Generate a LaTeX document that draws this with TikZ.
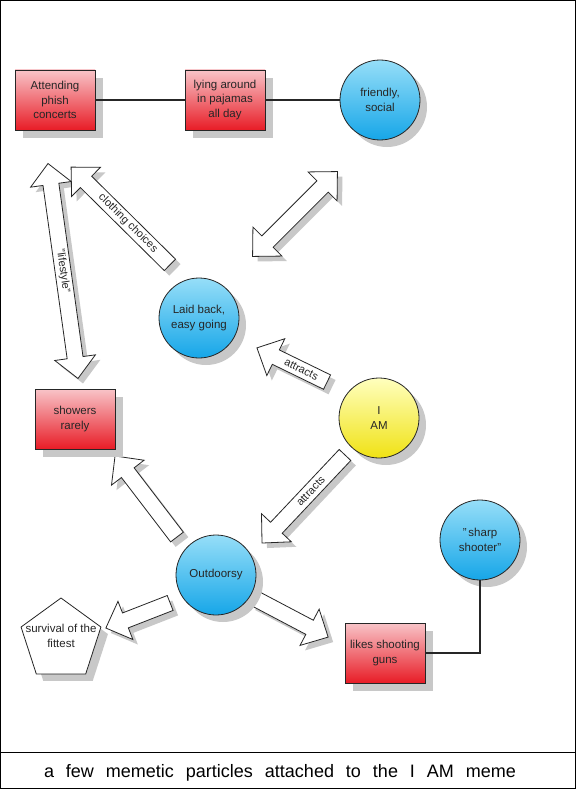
\documentclass[tikz,border=0pt]{standalone}
\usepackage{fontspec}
\setmainfont{Liberation Sans}
\usetikzlibrary{shadows,shapes.geometric}
\definecolor{rtop}{RGB}{248,196,200}
\definecolor{rbot}{RGB}{232,28,38}
\definecolor{btop}{RGB}{150,222,248}
\definecolor{bbot}{RGB}{22,166,232}
\definecolor{ytop}{RGB}{255,255,190}
\definecolor{ybot}{RGB}{240,226,20}
\definecolor{shadowc}{RGB}{200,200,200}
\newcommand{\nodefont}{\fontsize{11.5}{14.5}\selectfont}
\newcommand{\SArrow}[7]{%
 \fill[shadowc, shift={(#1+5,#2+5)}, rotate=#3] (-#4/2,-8) -- (#4/2-21,-8) -- (#4/2-21,-20.5) -- (#4/2,0) -- (#4/2-21,20.5) -- (#4/2-21,8) -- (-#4/2,8) -- cycle;
 \draw[blockarrow, shift={(#1,#2)}, rotate=#3] (-#4/2,-8) -- (#4/2-21,-8) -- (#4/2-21,-20.5) -- (#4/2,0) -- (#4/2-21,20.5) -- (#4/2-21,8) -- (-#4/2,8) -- cycle;
 \node[arrowlabel, rotate=#7] (#5) at ({#1-10.5*cos(#3)},{#2+10.5*sin(#3)}) {#6};
}
\newcommand{\DArrow}[7]{%
 \fill[shadowc, shift={(#1+5,#2+5)}, rotate=#3] (-#4/2,0) -- (-#4/2+21,-20.5) -- (-#4/2+21,-8) -- (#4/2-21,-8) -- (#4/2-21,-20.5) -- (#4/2,0) -- (#4/2-21,20.5) -- (#4/2-21,8) -- (-#4/2+21,8) -- (-#4/2+21,20.5) -- cycle;
 \draw[blockarrow, shift={(#1,#2)}, rotate=#3] (-#4/2,0) -- (-#4/2+21,-20.5) -- (-#4/2+21,-8) -- (#4/2-21,-8) -- (#4/2-21,-20.5) -- (#4/2,0) -- (#4/2-21,20.5) -- (#4/2-21,8) -- (-#4/2+21,8) -- (-#4/2+21,20.5) -- cycle;
 \node[arrowlabel, rotate=#7] (#5) at (#1,#2) {#6};
}
\tikzset{
 boxnode/.style={rectangle, draw=black!85, line width=0.8pt, minimum width=80pt, minimum height=60pt,
   top color=rtop, bottom color=rbot, align=center, font=\nodefont, text=black!85, inner sep=2pt,
   drop shadow={shadow xshift=8pt, shadow yshift=-8pt, fill=shadowc, opacity=1}},
 circnode/.style={circle, draw=black!85, line width=0.8pt, minimum size=80pt, inner sep=0pt,
   align=center, font=\nodefont, text=black!85,
   drop shadow={shadow xshift=7pt, shadow yshift=-7pt, fill=shadowc, opacity=1}},
 bluenode/.style={circnode, top color=btop, bottom color=bbot},
 yellownode/.style={circnode, top color=ytop, bottom color=ybot},
 pentnode/.style={regular polygon, regular polygon sides=5, minimum size=84pt, inner sep=0pt,
   draw=black!85, line width=0.8pt, fill=white,
   drop shadow={shadow xshift=7pt, shadow yshift=-7pt, fill=shadowc, opacity=1}},
 plaintext/.style={align=center, font=\nodefont, text=black!85, inner sep=0pt},
 blockarrow/.style={draw=black!85, line width=0.8pt, fill=white, line join=miter},
 arrowlabel/.style={font=\fontsize{11}{13}\selectfont, text=black!85, inner sep=0pt},
 link/.style={line width=1.3pt, draw=black!85},
}
\begin{document}
\begin{tikzpicture}[x=1pt,y=-1pt]
\useasboundingbox (0,0) rectangle (576,789);
\fill[white] (0,0) rectangle (576,789);
% frame
\draw[line width=1pt] (0.5,0.5) rectangle (575.5,788.5);
\draw[line width=1pt] (0,752) -- (576,752);

% block arrows
\DArrow{295}{214}{45}{120}{afriend}{}{0}
\DArrow{63}{271}{-82.06}{217}{alife}{"lifestyle"}{-82.06}
\SArrow{120.5}{216}{135.3}{139}{aclothing}{clothing choices}{-44.7}
\SArrow{292}{365}{154}{78}{aattr1}{attracts}{-26}
\SArrow{303.5}{499}{226.7}{121}{aattr2}{attracts}{46.7}
\SArrow{146}{496.5}{127.4}{102}{ashowers}{}{0}
\SArrow{138}{615.5}{201.3}{69}{asurvival}{}{0}
\SArrow{291}{617.5}{-27.8}{84}{aguns}{}{0}

% nodes
\node[boxnode] (phish) at (55,100) {Attending\\phish\\concerts};
\node[boxnode] (lying) at (225,100) {lying around\\in pajamas\\all day};
\node[bluenode] (friendly) at (380,100) {friendly,\\social};
\node[bluenode] (laid) at (199,318) {Laid back,\\easy going};
\node[yellownode] (iam) at (379,418) {I\\AM};
\node[boxnode] (showers) at (75,419) {showers\\rarely};
\node[bluenode] (outdoorsy) at (216,575) {Outdoorsy};
\node[bluenode] (sharp) at (480,540) {"\,sharp\\shooter"};
\node[boxnode] (guns) at (385,653) {likes shooting\\guns};
\node[pentnode] (surv) at (61,640) {};
\node[plaintext] (survtext) at (61,636) {survival of the\\fittest};

% connectors
\draw[link] (phish.east) -- (lying.west);
\draw[link] (lying.east) -- (friendly.west);
\draw[link] (sharp.south) |- (guns.east);

% caption
\node[font=\fontsize{18}{20}\selectfont, anchor=base, inner sep=0pt] (caption) at (280,777)
  {\makebox[472pt][s]{a few memetic particles attached to the I AM meme}};
\end{tikzpicture}
\end{document}
